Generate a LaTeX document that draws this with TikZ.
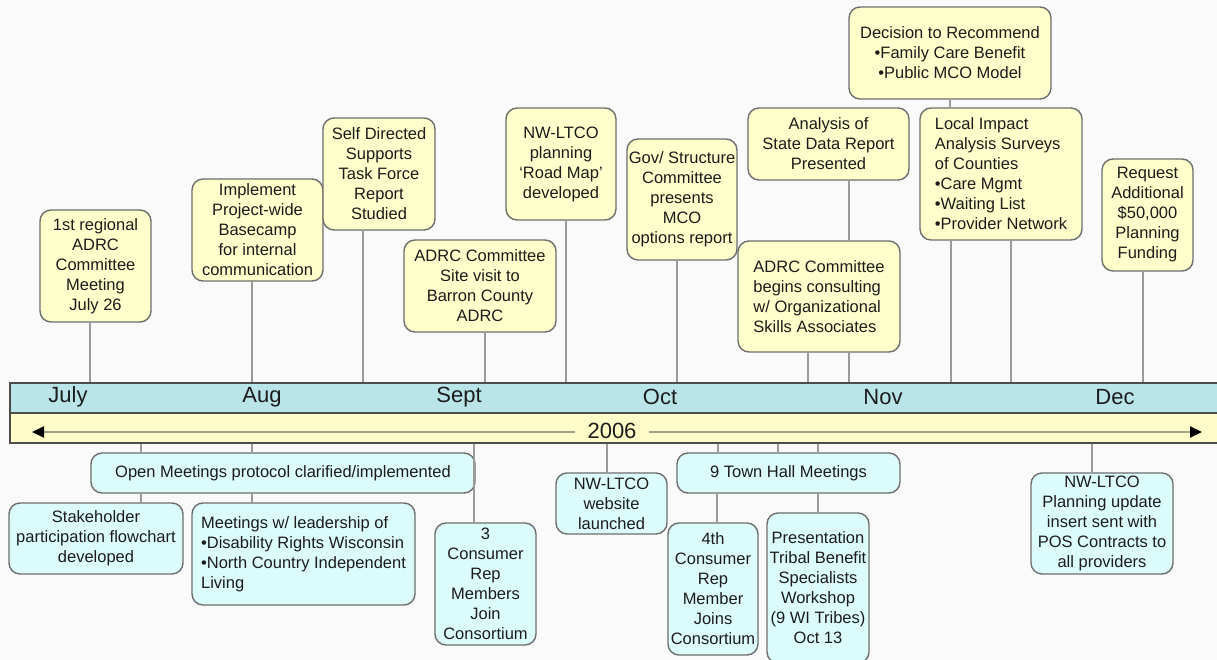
\documentclass[tikz,border=0pt]{standalone}
\usepackage{fontspec}
\setmainfont{Liberation Sans}
\usetikzlibrary{arrows.meta}

\definecolor{evyellow}{HTML}{FFFFCC}
\definecolor{actcyan}{HTML}{DCFCFC}
\definecolor{monthblue}{HTML}{B9E4E8}
\definecolor{yearyellow}{HTML}{FFFCC8}
\definecolor{boxgray}{HTML}{6E6E6E}
\definecolor{bardark}{HTML}{4C4C4C}
\definecolor{linkgray}{HTML}{9A9A9A}
\definecolor{arrowolive}{HTML}{A2A28C}
\definecolor{textdark}{HTML}{1C1C1C}

\tikzset{
  event/.style={draw=boxgray, line width=1.4pt, rounded corners=11pt, fill=evyellow,
    text=textdark, align=center, inner xsep=1pt, inner ysep=2pt,
    font=\fontsize{16.5}{20}\selectfont},
  action/.style={event, fill=actcyan},
  link/.style={draw=linkgray, line width=2.4pt},
  bar/.style={draw=bardark, line width=1.6pt, minimum width=1240pt,
    minimum height=30pt, anchor=north west, inner sep=0pt},
  month/.style={font=\fontsize{22}{26}\selectfont, text=textdark, inner sep=0pt},
  yearline/.style={draw=arrowolive, line width=2pt},
}

\begin{document}
\begin{tikzpicture}[x=1pt,y=-1pt]
    \useasboundingbox (0,0) rectangle (1217,660);
    \fill[white!98!black] (0,0) rectangle (1217,660);

    % Month and year bars
    \node[bar, fill=monthblue] (monthbar) at (9,382) {};
    \node[bar, fill=yearyellow] (yearbar) at (9,412) {};

    \node[month] (mjul) at (68,397) {July};
    \node[month] (maug) at (262,397) {Aug};
    \node[month] (msep) at (459,397) {Sept};
    \node[month] (moct) at (660,397) {Oct};
    \node[month] (mnov) at (883,397) {Nov};
    \node[month] (mdec) at (1115,397) {Dec};

    % Year arrow
    \node[month, inner xsep=12pt] (year) at (612,431) {2006};
    \coordinate (tailL) at (32,432);
    \coordinate (tipR) at (1202,432);
    \draw[yearline, {Triangle[length=12pt,width=11pt,color=black]}-]
    (tailL) -- (tailL -| year.west);
    \draw[yearline, -{Triangle[length=12pt,width=11pt,color=black]}]
    (tipR -| year.east) -- (tipR);

    % Events above the timeline
    \node[event, minimum width=111pt, minimum height=112pt] (adrcmeet) at (95.5,266)
    {1st regional\\ADRC\\Committee\\Meeting\\July 26};
    \node[event, minimum width=131pt, minimum height=102pt] (basecamp) at (257.5,230)
    {Implement\\Project-wide\\Basecamp\\for internal\\communication};
    \node[event, minimum width=112pt, minimum height=112pt] (selfdir) at (379,174)
    {Self Directed\\Supports\\Task Force\\Report\\Studied};
    \node[event, minimum width=152pt, minimum height=92pt] (sitevisit) at (480,286)
    {ADRC Committee\\Site visit to\\Barron County\\ADRC};
    \node[event, minimum width=110pt, minimum height=112pt] (roadmap) at (561,164)
    {NW-LTCO\\planning\\`Road Map'\\developed};
    \node[event, minimum width=110pt, minimum height=121pt] (govstruct) at (682,199.5)
    {Gov/ Structure\\Committee\\presents\\MCO\\options report};
    \node[event, minimum width=161pt, minimum height=72pt] (statedata) at (828.5,144)
    {Analysis of\\State Data Report\\Presented};
    \node[event, align=left, minimum width=162pt, minimum height=111pt] (consulting) at (819,296.5)
    {ADRC Committee\\begins consulting\\w/ Organizational\\Skills Associates};
    \node[event, minimum width=202pt, minimum height=92pt] (decision) at (950,53)
    {Decision to Recommend\\•Family Care Benefit\\•Public MCO Model};
    \node[event, align=left, minimum width=162pt, minimum height=132pt] (localimpact) at (1001,174)
    {Local Impact\\Analysis Surveys\\of Counties\\•Care Mgmt\\•Waiting List\\•Provider Network};
    \node[event, minimum width=91pt, minimum height=112pt] (request) at (1147.5,215)
    {Request\\Additional\\\$50,000\\Planning\\Funding};

    % Actions below the timeline
    \node[action, minimum width=384pt, minimum height=40pt] (openmeet) at (283,473)
    {Open Meetings protocol clarified/implemented};
    \node[action, minimum width=174pt, minimum height=71pt] (flowchart) at (96,538.5)
    {Stakeholder\\participation flowchart\\developed};
    \node[action, align=left, minimum width=223pt, minimum height=102pt] (leadership) at (303.5,554)
    {Meetings w/ leadership of\\•Disability Rights Wisconsin\\•North Country Independent\\Living};
    \node[action, minimum width=101pt, minimum height=122pt] (threereps) at (485.5,584)
    {3\\Consumer\\Rep\\Members\\Join\\Consortium};
    \node[action, minimum width=111pt, minimum height=61pt] (website) at (611.5,503.5)
    {NW-LTCO\\website\\launched};
    \node[action, minimum width=223pt, minimum height=40pt] (townhall) at (788.5,473)
    {9 Town Hall Meetings};
    \node[action, minimum width=90pt, minimum height=132pt] (fourthrep) at (713,589)
    {4th\\Consumer\\Rep\\Member\\Joins\\Consortium};
    \node[action, minimum width=102pt, minimum height=150pt] (tribal) at (818,588)
    {Presentation\\Tribal Benefit\\Specialists\\Workshop\\(9 WI Tribes)\\Oct 13};
    \node[action, minimum width=142pt, minimum height=101pt] (planning) at (1102,523.5)
    {NW-LTCO\\Planning update\\insert sent with\\POS Contracts to\\all providers};

    % Stems up to the events
    \draw[link] ([xshift=-5.5pt]adrcmeet.south) -- ([xshift=-5.5pt]adrcmeet.south |- monthbar.north);
    \draw[link] ([xshift=-5.5pt]basecamp.south) -- ([xshift=-5.5pt]basecamp.south |- monthbar.north);
    \draw[link] ([xshift=-16pt]selfdir.south) -- ([xshift=-16pt]selfdir.south |- monthbar.north);
    \draw[link] ([xshift=5pt]sitevisit.south) -- ([xshift=5pt]sitevisit.south |- monthbar.north);
    \draw[link] ([xshift=5pt]roadmap.south) -- ([xshift=5pt]roadmap.south |- monthbar.north);
    \draw[link] ([xshift=-5pt]govstruct.south) -- ([xshift=-5pt]govstruct.south |- monthbar.north);
    \draw[link] ([xshift=20.5pt]statedata.south) -- ([xshift=20.5pt]statedata.south |- consulting.north);
    \draw[link] ([xshift=30pt]consulting.south) -- ([xshift=30pt]consulting.south |- monthbar.north);
    \draw[link] ([xshift=-11pt]consulting.south) -- ([xshift=-11pt]consulting.south |- monthbar.north);
    \draw[link] (decision.south) -- (decision.south |- localimpact.north);
    \draw[link] ([xshift=-50pt]localimpact.south) -- ([xshift=-50pt]localimpact.south |- monthbar.north);
    \draw[link] ([xshift=10pt]localimpact.south) -- ([xshift=10pt]localimpact.south |- monthbar.north);
    \draw[link] ([xshift=-4.5pt]request.south) -- ([xshift=-4.5pt]request.south |- monthbar.north);

    % Stems down to the actions
    \draw[link] ([xshift=-142pt]openmeet.north |- yearbar.south) -- ([xshift=-142pt]openmeet.north);
    \draw[link] ([xshift=-31pt]openmeet.north |- yearbar.south) -- ([xshift=-31pt]openmeet.north);
    \draw[link] ([xshift=-142pt]openmeet.south) -- ([xshift=-142pt]openmeet.south |- flowchart.north);
    \draw[link] ([xshift=-31pt]openmeet.south) -- ([xshift=-31pt]openmeet.south |- leadership.north);
    \draw[link] ([xshift=-11.5pt]threereps.north |- yearbar.south) -- ([xshift=-11.5pt]threereps.north);
    \draw[link] ([xshift=-4.5pt]website.north |- yearbar.south) -- ([xshift=-4.5pt]website.north);
    \draw[link] ([xshift=-70.5pt]townhall.north |- yearbar.south) -- ([xshift=-70.5pt]townhall.north);
    \draw[link] ([xshift=-10.5pt]townhall.north |- yearbar.south) -- ([xshift=-10.5pt]townhall.north);
    \draw[link] ([xshift=29.5pt]townhall.north |- yearbar.south) -- ([xshift=29.5pt]townhall.north);
    \draw[link] ([xshift=4pt]fourthrep.north |- townhall.south) -- ([xshift=4pt]fourthrep.north);
    \draw[link] (tribal.north |- townhall.south) -- (tribal.north);
    \draw[link] ([xshift=-10pt]planning.north |- yearbar.south) -- ([xshift=-10pt]planning.north);
\end{tikzpicture}
\end{document}
